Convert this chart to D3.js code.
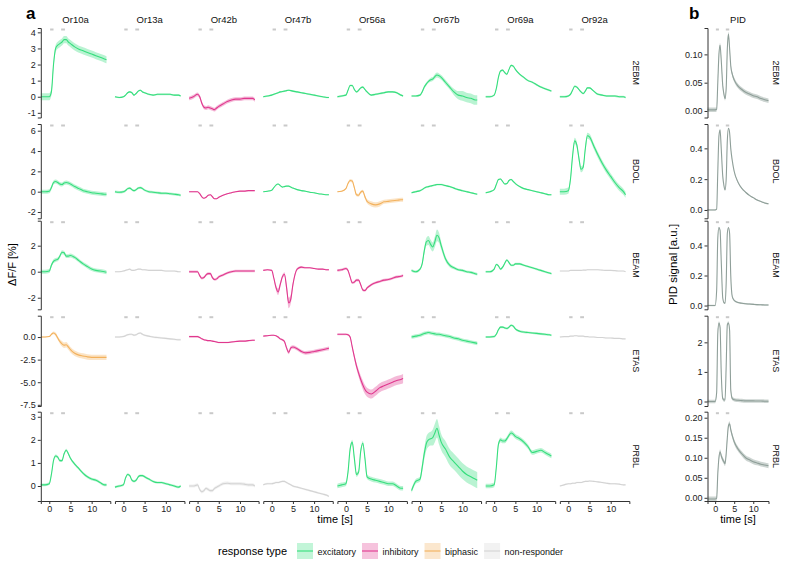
<!DOCTYPE html>
<html>
<head>
<meta charset="utf-8">
<script src="https://cdn.jsdelivr.net/npm/d3@7"></script>
<style>
  body { margin: 0; background: #fff; }
  text { font-family: "Liberation Sans", Arial, sans-serif; }
</style>
</head>
<body>
<svg id="chart" width="793" height="569"></svg>
<script>
// ---- data ----
const receptors = ['Or10a', 'Or13a', 'Or42b', 'Or47b', 'Or56a', 'Or67b', 'Or69a', 'Or92a'];
const odors = ['2EBM', 'BDOL', 'BEAM', 'ETAS', 'PRBL'];
const responseTypes = ['excitatory', 'inhibitory', 'biphasic', 'non-responder'];

// time grid (s) for the calcium traces
const time = [-2, -1, 0, 0.5, 1, 1.5, 2, 2.5, 3, 3.5, 4, 4.5, 5, 6, 7, 8, 9, 10, 11, 12, 13, 13.5];

// stimulus pulses (s)
const stimOn = [0.2, 2.8];
const stimOff = [1.0, 3.7];

// dF/F (%) per receptor, one array per odor (receptor order as above)
const val2EBM = [
  [0, 0, 0, 0.3, 2.0, 3.0, 3.2, 3.3, 3.4, 3.55, 3.55, 3.4, 3.3, 3.1, 2.95, 2.85, 2.75, 2.65, 2.55, 2.45, 2.35, 2.3],
  [0, -0.05, 0, 0.1, 0.25, 0.3, 0.25, 0.1, 0.2, 0.35, 0.4, 0.3, 0.25, 0.15, 0.1, 0.15, 0.15, 0.15, 0.15, 0.1, 0.1, 0.05],
  [-0.1, 0, 0.15, 0, -0.4, -0.65, -0.7, -0.65, -0.7, -0.75, -0.8, -0.7, -0.6, -0.45, -0.3, -0.2, -0.15, -0.15, -0.1, -0.1, -0.1, -0.2],
  [0, 0.05, 0.1, 0.15, 0.2, 0.25, 0.3, 0.32, 0.35, 0.38, 0.4, 0.38, 0.35, 0.3, 0.25, 0.2, 0.15, 0.1, 0.05, 0, -0.05, -0.05],
  [0, 0.05, 0.1, 0.4, 0.7, 0.7, 0.45, 0.3, 0.4, 0.55, 0.6, 0.45, 0.3, 0.1, 0.15, 0.2, 0.25, 0.3, 0.3, 0.25, 0.1, 0.05],
  [0.05, 0.05, 0.1, 0.3, 0.6, 0.8, 0.95, 1.05, 1.1, 1.25, 1.35, 1.3, 1.2, 0.9, 0.6, 0.3, 0.1, 0.05, -0.05, -0.1, -0.2, -0.2],
  [0, 0, 0.1, 0.5, 1.2, 1.6, 1.65, 1.5, 1.4, 1.7, 1.95, 1.9, 1.7, 1.4, 1.2, 1.0, 0.9, 0.75, 0.6, 0.5, 0.4, 0.35],
  [0, 0, 0.05, 0.15, 0.4, 0.65, 0.6, 0.45, 0.3, 0.2, 0.35, 0.55, 0.55, 0.35, 0.15, 0.1, 0.05, 0.05, 0.05, 0, 0, -0.05]
];
const valBDOL = [
  [0, 0, 0.05, 0.4, 0.9, 1.0, 0.9, 0.75, 0.7, 0.85, 0.9, 0.85, 0.75, 0.5, 0.3, 0.1, 0, -0.1, -0.15, -0.2, -0.25, -0.25],
  [0, -0.05, 0, 0.1, 0.3, 0.35, 0.2, 0.1, 0.2, 0.35, 0.4, 0.3, 0.15, 0, -0.05, -0.1, -0.15, -0.15, -0.2, -0.25, -0.3, -0.35],
  [0, 0, 0, -0.2, -0.5, -0.65, -0.55, -0.35, -0.3, -0.5, -0.7, -0.7, -0.55, -0.35, -0.2, -0.1, 0, 0.05, 0.05, 0.1, 0.1, 0.1],
  [0, 0.05, 0.15, 0.4, 0.65, 0.75, 0.6, 0.45, 0.5, 0.55, 0.55, 0.45, 0.35, 0.2, 0.1, 0.05, -0.05, -0.1, -0.2, -0.25, -0.3, -0.3],
  [0, 0.05, 0.3, 0.8, 1.1, 1.05, 0.4, -0.3, -0.35, -0.05, 0.05, -0.5, -0.95, -1.2, -1.3, -1.2, -1.0, -0.95, -0.9, -0.85, -0.8, -0.8],
  [-0.1, 0, 0.1, 0.2, 0.35, 0.45, 0.5, 0.55, 0.6, 0.65, 0.7, 0.7, 0.7, 0.6, 0.5, 0.35, 0.2, 0.1, 0, -0.1, -0.2, -0.25],
  [-0.1, 0, 0.2, 0.7, 1.2, 1.25, 1.0, 0.75, 0.8, 1.1, 1.2, 1.0, 0.8, 0.5, 0.3, 0.2, 0.1, 0, -0.1, -0.2, -0.3, -0.3],
  [0, 0, 0.1, 1.2, 3.5, 5.0, 4.6, 3.3, 2.2, 2.4, 4.2, 5.5, 5.4, 4.5, 3.6, 2.8, 2.1, 1.5, 0.9, 0.4, 0, -0.3]
];
const valBEAM = [
  [0, 0, 0.05, 0.5, 0.8, 0.9, 0.95, 1.2, 1.5, 1.45, 1.2, 1.2, 1.25, 1.1, 0.85, 0.6, 0.4, 0.2, 0.1, 0.05, 0, -0.05],
  [0, 0, 0.05, 0.1, 0.15, 0.2, 0.1, 0.1, 0.15, 0.2, 0.2, 0.15, 0.15, 0.1, 0.1, 0.1, 0.1, 0.05, 0.05, 0.05, 0, 0],
  [0, 0, 0, -0.3, -0.5, -0.45, -0.25, -0.15, -0.15, -0.45, -0.6, -0.55, -0.4, -0.25, -0.1, 0, 0.05, 0.05, 0.05, 0.05, 0.05, 0.05],
  [0.1, 0.15, 0.1, -0.5, -1.2, -1.55, -1.0, -0.4, -0.2, -1.2, -2.4, -2.1, -1.0, 0.2, 0.35, 0.3, 0.3, 0.25, 0.2, 0.2, 0.15, 0.15],
  [0.1, 0.15, 0.25, 0.1, -0.4, -0.85, -0.8, -0.65, -0.65, -1.0, -1.4, -1.45, -1.25, -1.0, -0.85, -0.75, -0.65, -0.6, -0.5, -0.4, -0.35, -0.3],
  [0.1, 0, 0.2, 0.6, 1.6, 2.3, 2.4, 2.1, 1.9, 2.3, 2.8, 2.6, 2.0, 1.0, 0.5, 0.3, 0.15, 0.1, 0, -0.05, -0.15, -0.2],
  [0, 0, 0.2, 0.55, 0.45, 0.2, 0.35, 0.65, 0.9, 0.7, 0.5, 0.5, 0.6, 0.6, 0.5, 0.4, 0.3, 0.2, 0.1, 0, -0.1, -0.15],
  [0.05, 0.05, 0.05, 0.1, 0.1, 0.1, 0.1, 0.1, 0.1, 0.12, 0.12, 0.15, 0.15, 0.15, 0.15, 0.12, 0.1, 0.1, 0.08, 0.05, 0.05, 0]
];
const valETAS = [
  [0, 0, 0.05, 0.3, 0.45, 0.3, -0.1, -0.5, -0.75, -0.9, -0.85, -1.1, -1.4, -1.8, -2.0, -2.1, -2.2, -2.25, -2.25, -2.25, -2.25, -2.25],
  [0, 0, 0.05, 0.15, 0.25, 0.3, 0.3, 0.2, 0.25, 0.4, 0.45, 0.3, 0.2, 0.1, 0, -0.05, -0.1, -0.15, -0.2, -0.25, -0.3, -0.3],
  [0.05, 0.05, 0.05, -0.05, -0.2, -0.3, -0.35, -0.4, -0.4, -0.45, -0.5, -0.55, -0.6, -0.6, -0.6, -0.55, -0.5, -0.45, -0.45, -0.4, -0.35, -0.35],
  [0.1, 0.15, 0.2, 0.2, 0.15, 0, -0.2, -0.3, -0.5, -1.2, -1.7, -1.2, -1.1, -1.3, -1.6, -1.75, -1.7, -1.6, -1.5, -1.4, -1.3, -1.25],
  [0.3, 0.3, 0.3, 0.25, 0, -1.1, -2.2, -3.2, -4.0, -4.7, -5.3, -5.8, -6.1, -6.3, -6.0, -5.6, -5.4, -5.2, -5.0, -4.8, -4.7, -4.6],
  [0, 0.1, 0.2, 0.3, 0.4, 0.45, 0.5, 0.45, 0.4, 0.35, 0.3, 0.3, 0.25, 0.15, 0.05, -0.1, -0.2, -0.35, -0.45, -0.55, -0.65, -0.7],
  [0, 0, 0.05, 0.3, 0.8, 1.1, 1.1, 1.0, 0.95, 1.1, 1.3, 1.2, 0.9, 0.65, 0.55, 0.5, 0.45, 0.4, 0.35, 0.3, 0.25, 0.2],
  [0, 0.05, 0.05, 0.1, 0.1, 0.15, 0.15, 0.1, 0.1, 0.1, 0.05, 0.05, 0, 0, -0.05, -0.05, -0.1, -0.1, -0.15, -0.15, -0.2, -0.2]
];
const valPRBL = [
  [0.05, 0.05, 0.1, 0.5, 1.1, 1.3, 1.25, 1.1, 1.1, 1.4, 1.55, 1.4, 1.2, 0.95, 0.75, 0.55, 0.4, 0.3, 0.25, 0.15, 0.05, 0.05],
  [-0.05, 0, 0.05, 0.35, 0.5, 0.45, 0.25, 0.2, 0.25, 0.4, 0.45, 0.45, 0.4, 0.3, 0.2, 0.15, 0.15, 0.1, 0.05, 0, -0.05, 0],
  [0, 0, 0.05, -0.15, -0.25, -0.2, -0.1, -0.15, -0.2, -0.2, -0.1, -0.05, 0, 0.1, 0.12, 0.1, 0.1, 0.1, 0.08, 0.05, 0.05, 0],
  [0.05, 0.1, 0.1, 0.12, 0.15, 0.15, 0.18, 0.2, 0.2, 0.15, 0.1, 0.05, 0, -0.05, -0.1, -0.15, -0.2, -0.25, -0.3, -0.35, -0.4, -0.45],
  [0, 0.05, 0.1, 0.6, 1.6, 1.9, 1.2, 0.5, 0.6, 1.5, 1.85, 1.2, 0.4, 0.3, 0.25, 0.2, 0.15, 0.1, 0.1, 0, -0.1, -0.1],
  [-0.2, 0.2, 0.3, 0.8, 1.4, 1.85, 2.0, 2.05, 2.1, 2.3, 2.5, 2.2, 1.9, 1.6, 1.25, 1.05, 0.85, 0.65, 0.5, 0.4, 0.3, 0.25],
  [0, 0, 0.05, 0.8, 1.8, 2.0, 1.95, 1.95, 2.05, 2.2, 2.3, 2.25, 2.15, 2.05, 1.9, 1.7, 1.45, 1.5, 1.55, 1.45, 1.35, 1.3],
  [0, 0.05, 0.1, 0.1, 0.12, 0.12, 0.15, 0.15, 0.15, 0.18, 0.2, 0.2, 0.22, 0.2, 0.18, 0.15, 0.12, 0.1, 0.1, 0.08, 0.05, 0.05]
];

// response type per receptor
const type2EBM = ['excitatory', 'excitatory', 'inhibitory', 'excitatory', 'excitatory', 'excitatory', 'excitatory', 'excitatory'];
const typeBDOL = ['excitatory', 'excitatory', 'inhibitory', 'excitatory', 'biphasic', 'excitatory', 'excitatory', 'excitatory'];
const typeBEAM = ['excitatory', 'non-responder', 'inhibitory', 'inhibitory', 'inhibitory', 'excitatory', 'excitatory', 'non-responder'];
const typeETAS = ['biphasic', 'non-responder', 'inhibitory', 'inhibitory', 'inhibitory', 'excitatory', 'excitatory', 'non-responder'];
const typePRBL = ['excitatory', 'excitatory', 'non-responder', 'non-responder', 'excitatory', 'excitatory', 'excitatory', 'non-responder'];

// SEM half-width (%), a number or an array over the time grid
const sem2EBM = [0.22, 0.05, 0.12, 0.05, 0.06,
  [0.05, 0.05, 0.05, 0.08, 0.1, 0.1, 0.1, 0.12, 0.12, 0.15, 0.15, 0.15, 0.15, 0.15, 0.15, 0.2, 0.25, 0.3, 0.3, 0.3, 0.3, 0.3],
  0.06, 0.06];
const semBDOL = [0.2, 0.12, 0.05, 0.05,
  [0.05, 0.05, 0.05, 0.1, 0.15, 0.15, 0.15, 0.15, 0.15, 0.15, 0.15, 0.2, 0.2, 0.25, 0.25, 0.25, 0.2, 0.2, 0.2, 0.2, 0.2, 0.2],
  0.08, 0.07, 0.3];
const semBEAM = [0.15, 0.05, 0.1,
  [0.05, 0.05, 0.05, 0.1, 0.2, 0.25, 0.2, 0.15, 0.15, 0.3, 0.4, 0.35, 0.2, 0.1, 0.08, 0.06, 0.05, 0.05, 0.05, 0.05, 0.05, 0.05],
  0.1,
  [0.1, 0.1, 0.1, 0.15, 0.25, 0.3, 0.35, 0.35, 0.35, 0.4, 0.45, 0.4, 0.3, 0.2, 0.15, 0.12, 0.1, 0.1, 0.1, 0.1, 0.1, 0.1],
  0.08, 0.03];
const semETAS = [
  [0.05, 0.05, 0.05, 0.1, 0.15, 0.2, 0.2, 0.25, 0.3, 0.3, 0.3, 0.3, 0.3, 0.3, 0.3, 0.3, 0.3, 0.3, 0.3, 0.3, 0.3, 0.3],
  0.1, 0.08,
  [0.05, 0.05, 0.05, 0.05, 0.05, 0.08, 0.1, 0.12, 0.15, 0.2, 0.2, 0.2, 0.2, 0.2, 0.2, 0.2, 0.2, 0.2, 0.2, 0.2, 0.2, 0.2],
  [0.1, 0.1, 0.1, 0.1, 0.15, 0.2, 0.3, 0.35, 0.4, 0.45, 0.5, 0.5, 0.5, 0.5, 0.5, 0.5, 0.5, 0.5, 0.5, 0.5, 0.5, 0.5],
  0.2, 0.12, 0.05];
const semPRBL = [0.06, 0.05, 0.07, 0.04, 0.1,
  [0.1, 0.1, 0.1, 0.2, 0.25, 0.3, 0.3, 0.3, 0.35, 0.4, 0.4, 0.4, 0.35, 0.35, 0.35, 0.35, 0.35, 0.35, 0.35, 0.35, 0.35, 0.35],
  0.1, 0.03];

// PID traces (a.u.)
const timePID = [-2, -1, 0, 0.4, 0.7, 1, 1.3, 1.6, 2, 2.3, 2.6, 2.9, 3.2, 3.5, 3.8, 4.1, 4.5, 5, 6, 7, 8, 9, 10, 11, 12, 13, 14];
const pid2EBM = [0.002, 0.002, 0.002, 0.003, 0.05, 0.1, 0.116, 0.09, 0.045, 0.03, 0.022, 0.04, 0.11, 0.136, 0.11, 0.08, 0.065, 0.055, 0.044, 0.038, 0.033, 0.03, 0.027, 0.025, 0.022, 0.02, 0.018];
const pidBDOL = [0, 0, 0, 0.005, 0.25, 0.48, 0.52, 0.4, 0.22, 0.16, 0.13, 0.2, 0.45, 0.53, 0.5, 0.4, 0.32, 0.25, 0.18, 0.14, 0.115, 0.095, 0.08, 0.065, 0.055, 0.045, 0.04];
const pidBEAM = [0, 0, 0, 0.1, 0.45, 0.52, 0.5, 0.3, 0.05, 0.02, 0.015, 0.15, 0.48, 0.52, 0.48, 0.2, 0.06, 0.035, 0.02, 0.015, 0.012, 0.01, 0.008, 0.006, 0.005, 0.004, 0.004];
const pidETAS = [0, 0, 0, 0.3, 2.3, 2.65, 2.5, 1.0, 0.1, 0.05, 0.05, 1.2, 2.6, 2.65, 2.4, 0.4, 0.1, 0.06, 0.04, 0.03, 0.02, 0.02, 0.02, 0.015, 0.015, 0.01, 0.01];
const pidPRBL = [-0.003, -0.003, -0.003, -0.002, 0.06, 0.1, 0.115, 0.105, 0.095, 0.09, 0.085, 0.11, 0.15, 0.18, 0.185, 0.17, 0.155, 0.14, 0.122, 0.11, 0.1, 0.095, 0.09, 0.087, 0.084, 0.082, 0.08];
const pidSem = [0.004, 0.004, 0.005, 0.06, 0.006];

// axis ticks
const ticksA = [[-1, 0, 1, 2, 3, 4], [-2, 0, 2, 4, 6], [-2, 0, 2], [-7.5, -5, -2.5, 0], [0, 1, 2, 3]];
const tickFmtA = ['d', 'd', 'd', '.1f', 'd'];
const ticksB = [[0, 0.05, 0.1], [0, 0.2, 0.4], [0, 0.2, 0.4], [0, 1, 2], [0, 0.05, 0.1, 0.15, 0.2]];
const tickFmtB = ['.2f', '.1f', '.1f', 'd', '.2f'];
const ticksX = [0, 5, 10];

// ---- layout ----
const colors = {
  'excitatory': '#36de7d',
  'inhibitory': '#e0388e',
  'biphasic': '#f3b15c',
  'non-responder': '#d3d3d3'
};
const pidColor = '#8f9f99';
const axisColor = '#333';

const valuesByOdor = [val2EBM, valBDOL, valBEAM, valETAS, valPRBL];
const typesByOdor = [type2EBM, typeBDOL, typeBEAM, typeETAS, typePRBL];
const semByOdor = [sem2EBM, semBDOL, semBEAM, semETAS, semPRBL];
const pidByOdor = [pid2EBM, pidBDOL, pidBEAM, pidETAS, pidPRBL];

const rowTop = [28, 124, 220.7, 315.7, 411.7];
const rowBot = [117.5, 218.3, 309.3, 406, 501];
const yDomA = [[-1.29, 4.27], [-2.62, 6.66], [-2.89, 3.92], [-7.63, 2.36], [-0.65, 3.22]];
const yDomB = [[-0.0115, 0.1466], [-0.054, 0.558], [-0.025, 0.565], [-0.152, 2.9], [-0.008, 0.215]];

const colLeft0 = 40.8, colStep = 74.15, panelW = 69.5;
const pidLeft = 707.5, pidW = 61;

const svg = d3.select('#chart');
const minus = s => s.replace(/\u2212/g, '-');

const x = d3.scaleLinear().domain([-2, 14.4]).range([0, panelW]);
const xP = d3.scaleLinear().domain([-2, 14]).range([0, pidW]);

function semAt(s, i) {
  return Array.isArray(s) ? s[i] : s;
}

function styleAxis(g) {
  g.selectAll('path.domain').attr('stroke', axisColor).attr('stroke-width', 1);
  g.selectAll('.tick line').attr('stroke', axisColor);
  g.selectAll('.tick text').attr('fill', '#222').attr('font-size', 9)
    .attr('font-family', '"Liberation Sans", Arial, sans-serif');
}

function drawStim(g, xs, top) {
  stimOn.forEach((t0, k) => {
    g.append('line')
      .attr('x1', xs(t0)).attr('x2', xs(stimOff[k]))
      .attr('y1', top + 1.5).attr('y2', top + 1.5)
      .attr('stroke', '#c9c9c9').attr('stroke-width', 2);
  });
}

// ---- panel a ----
odors.forEach((odor, r) => {
  const y = d3.scaleLinear().domain(yDomA[r]).range([rowBot[r], rowTop[r]]);

  receptors.forEach((rec, c) => {
    const g = svg.append('g')
      .attr('transform', `translate(${colLeft0 + c * colStep},0)`);
    const vals = valuesByOdor[r][c];
    const sem = semByOdor[r][c];
    const col = colors[typesByOdor[r][c]];

    drawStim(g, x, rowTop[r]);

    const area = d3.area()
      .x((d, i) => x(time[i]))
      .y0((d, i) => y(d - semAt(sem, i)))
      .y1((d, i) => y(d + semAt(sem, i)))
      .curve(d3.curveMonotoneX);
    const line = d3.line()
      .x((d, i) => x(time[i]))
      .y(d => y(d))
      .curve(d3.curveMonotoneX);

    g.append('path').datum(vals)
      .attr('d', area).attr('fill', col).attr('fill-opacity', 0.35);
    g.append('path').datum(vals)
      .attr('d', line).attr('fill', 'none').attr('stroke', col).attr('stroke-width', 1.1);

    if (r === odors.length - 1) {
      const ax = g.append('g')
        .attr('transform', `translate(0,${rowBot[r]})`)
        .call(d3.axisBottom(x).tickValues(ticksX).tickSize(3).tickPadding(2));
      styleAxis(ax);
    }
    if (r === 0) {
      g.append('text')
        .attr('x', panelW / 2).attr('y', 23)
        .attr('text-anchor', 'middle').attr('font-size', 9.5).attr('fill', '#111')
        .text(rec);
    }
  });

  const ay = svg.append('g')
    .attr('transform', `translate(${colLeft0},0)`)
    .call(d3.axisLeft(y).tickValues(ticksA[r]).tickSize(3).tickPadding(2)
      .tickFormat(v => minus(d3.format(tickFmtA[r])(v))));
  styleAxis(ay);

  // right strip label
  const cy = (rowTop[r] + rowBot[r]) / 2;
  svg.append('text')
    .attr('transform', `translate(636.5,${cy}) rotate(90)`)
    .attr('text-anchor', 'middle').attr('dy', '0.35em')
    .attr('font-size', 9).attr('fill', '#111')
    .text(odor);

  // ---- panel b (PID) ----
  const yP = d3.scaleLinear().domain(yDomB[r]).range([rowBot[r], rowTop[r]]);
  const gP = svg.append('g').attr('transform', `translate(${pidLeft},0)`);
  drawStim(gP, xP, rowTop[r]);
  const pv = pidByOdor[r];
  const ps = pidSem[r];
  gP.append('path').datum(pv)
    .attr('d', d3.area()
      .x((d, i) => xP(timePID[i]))
      .y0(d => yP(d - ps)).y1(d => yP(d + ps))
      .curve(d3.curveMonotoneX))
    .attr('fill', pidColor).attr('fill-opacity', 0.45);
  gP.append('path').datum(pv)
    .attr('d', d3.line()
      .x((d, i) => xP(timePID[i]))
      .y(d => yP(d))
      .curve(d3.curveMonotoneX))
    .attr('fill', 'none').attr('stroke', pidColor).attr('stroke-width', 1.1);

  const ayP = gP.append('g')
    .call(d3.axisLeft(yP).tickValues(ticksB[r]).tickSize(3).tickPadding(2)
      .tickFormat(v => minus(d3.format(tickFmtB[r])(v))));
  styleAxis(ayP);

  if (r === odors.length - 1) {
    const axP = gP.append('g')
      .attr('transform', `translate(0,${rowBot[r]})`)
      .call(d3.axisBottom(xP).tickValues(ticksX).tickSize(3).tickPadding(2));
    styleAxis(axP);
  }

  svg.append('text')
    .attr('transform', `translate(776.5,${cy}) rotate(90)`)
    .attr('text-anchor', 'middle').attr('dy', '0.35em')
    .attr('font-size', 9).attr('fill', '#111')
    .text(odor);
});

// ---- titles ----
svg.append('text').attr('x', 26).attr('y', 19)
  .attr('font-size', 17).attr('font-weight', 'bold').text('a');
svg.append('text').attr('x', 689).attr('y', 19)
  .attr('font-size', 17).attr('font-weight', 'bold').text('b');
svg.append('text').attr('x', pidLeft + pidW / 2).attr('y', 23)
  .attr('text-anchor', 'middle').attr('font-size', 9.5).attr('fill', '#111').text('PID');

const midY = (rowTop[0] + rowBot[4]) / 2;
svg.append('text')
  .attr('transform', `translate(12,${midY}) rotate(-90)`)
  .attr('text-anchor', 'middle').attr('dy', '0.35em')
  .attr('font-size', 11).text('\u0394F/F [%]');
svg.append('text')
  .attr('transform', `translate(673,${midY}) rotate(-90)`)
  .attr('text-anchor', 'middle').attr('dy', '0.35em')
  .attr('font-size', 11.5).text('PID signal [a.u.]');

const aRight = colLeft0 + 7 * colStep + panelW;
svg.append('text').attr('x', (colLeft0 + aRight) / 2).attr('y', 523)
  .attr('text-anchor', 'middle').attr('font-size', 11).text('time [s]');
svg.append('text').attr('x', pidLeft + pidW / 2).attr('y', 523)
  .attr('text-anchor', 'middle').attr('font-size', 11).text('time [s]');

// ---- legend ----
const leg = svg.append('g');
leg.append('text').attr('x', 218).attr('y', 555)
  .attr('font-size', 11).text('response type');
let lx = 297;
responseTypes.forEach(t => {
  leg.append('rect')
    .attr('x', lx).attr('y', 543).attr('width', 16).attr('height', 16)
    .attr('fill', colors[t]).attr('fill-opacity', 0.3);
  leg.append('line')
    .attr('x1', lx).attr('x2', lx + 16).attr('y1', 551).attr('y2', 551)
    .attr('stroke', colors[t]).attr('stroke-width', 1.1);
  const txt = leg.append('text')
    .attr('x', lx + 20.5).attr('y', 554.5)
    .attr('font-size', 9).attr('fill', '#111').text(t);
  lx += 20.5 + txt.node().getComputedTextLength() + 6;
});
</script>
</body>
</html>
